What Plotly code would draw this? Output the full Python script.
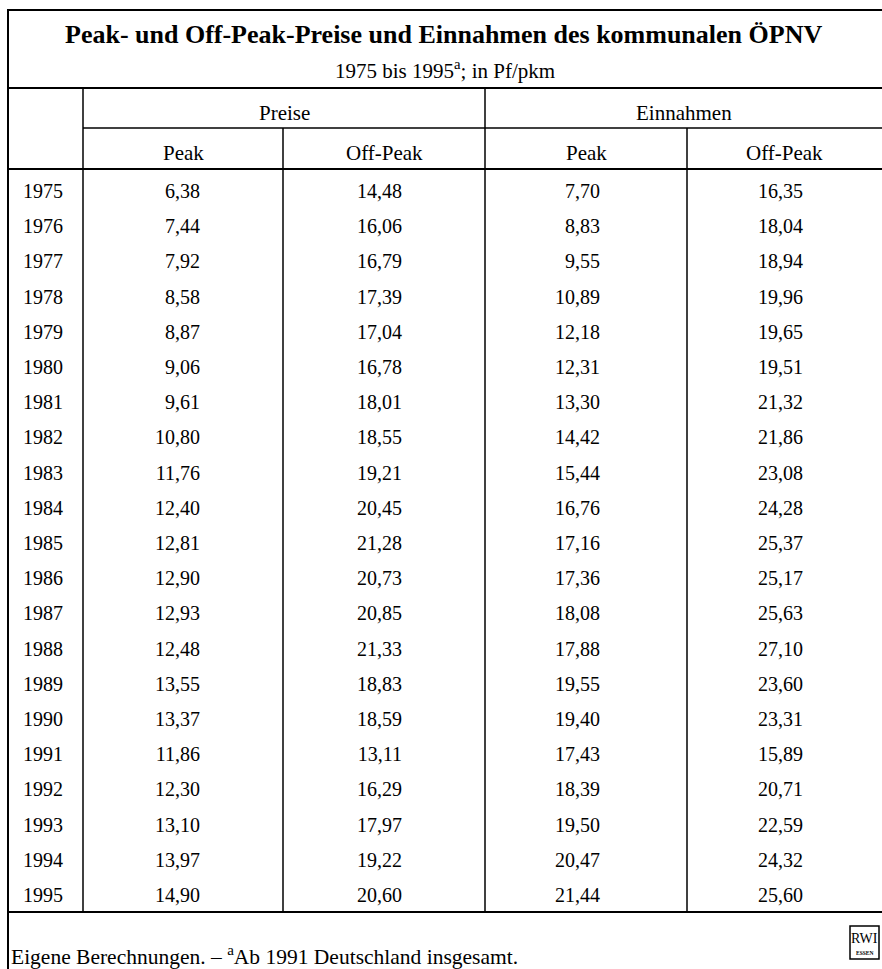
import plotly.graph_objects as go

years = ["1975", "1976", "1977", "1978", "1979", "1980", "1981", "1982", "1983", "1984",
         "1985", "1986", "1987", "1988", "1989", "1990", "1991", "1992", "1993", "1994", "1995"]
preise_peak = ["6,38", "7,44", "7,92", "8,58", "8,87", "9,06", "9,61", "10,80", "11,76", "12,40",
               "12,81", "12,90", "12,93", "12,48", "13,55", "13,37", "11,86", "12,30", "13,10", "13,97", "14,90"]
preise_off = ["14,48", "16,06", "16,79", "17,39", "17,04", "16,78", "18,01", "18,55", "19,21", "20,45",
              "21,28", "20,73", "20,85", "21,33", "18,83", "18,59", "13,11", "16,29", "17,97", "19,22", "20,60"]
einn_peak = ["7,70", "8,83", "9,55", "10,89", "12,18", "12,31", "13,30", "14,42", "15,44", "16,76",
             "17,16", "17,36", "18,08", "17,88", "19,55", "19,40", "17,43", "18,39", "19,50", "20,47", "21,44"]
einn_off = ["16,35", "18,04", "18,94", "19,96", "19,65", "19,51", "21,32", "21,86", "23,08", "24,28",
            "25,37", "25,17", "25,63", "27,10", "23,60", "23,31", "15,89", "20,71", "22,59", "24,32", "25,60"]

title = "<b>Peak- und Off-Peak-Preise und Einnahmen des kommunalen ÖPNV</b>"
subtitle = "1975 bis 1995<sup>a</sup>; in Pf/pkm"
group_labels = ["Preise", "Einnahmen"]
sub_labels = ["Peak", "Off-Peak", "Peak", "Off-Peak"]
footer = "Eigene Berechnungen. – <sup>a</sup>Ab 1991 Deutschland insgesamt."

W, H = 882, 969
ROW0, ROWH = 193.0, 35.2
FONT = "Liberation Serif"

# y axis in row units (row i centred at ROW0 + i*ROWH pixels)
y_top = (0 - ROW0) / ROWH
y_bot = (H - ROW0) / ROWH

def py(p):
    return 1 - p / H

fig = go.Figure()
rows = list(range(len(years)))

fig.add_trace(go.Scatter(x=[43] * len(years), y=rows, text=years, mode="text",
                         textposition="middle center",
                         textfont=dict(family=FONT, size=20, color="black"),
                         hoverinfo="skip", showlegend=False))
cols = [(preise_peak, 200), (preise_off, 402), (einn_peak, 600), (einn_off, 803)]
for vals, xr in cols:
    fig.add_trace(go.Scatter(x=[xr] * len(vals), y=rows, text=vals, mode="text",
                             textposition="middle left",
                             textfont=dict(family=FONT, size=20, color="black"),
                             hoverinfo="skip", showlegend=False))

shapes = []
def hline(x0, x1, y, w=1.5):
    shapes.append(dict(type="line", xref="x", yref="paper", x0=x0, x1=x1, y0=py(y), y1=py(y),
                       line=dict(color="black", width=w)))
def vline(x, y0, y1, w=1.5):
    shapes.append(dict(type="line", xref="x", yref="paper", x0=x, x1=x, y0=py(y0), y1=py(y1),
                       line=dict(color="black", width=w)))

hline(8, 882, 10, 2)
hline(8, 882, 88, 2)
hline(83, 882, 128)
hline(8, 882, 169, 2)
hline(8, 882, 912, 2)
vline(8, 9, 969, 2)
vline(83, 88, 912)
vline(283, 128, 912)
vline(485, 88, 912)
vline(687, 128, 912)
# logo box
shapes.append(dict(type="rect", xref="x", yref="paper", x0=850, x1=879, y0=py(959), y1=py(926),
                   line=dict(color="black", width=1.5)))

annotations = []
def ann(text, x, y, size, xanchor="center"):
    annotations.append(dict(text=text, x=x, y=py(y), xref="x", yref="paper", showarrow=False,
                            xanchor=xanchor, yanchor="middle",
                            font=dict(family=FONT, size=size, color="black")))

ann(title, 443, 34, 26)
ann(subtitle, 445, 69, 21)
ann(group_labels[0], 284, 113, 21)
ann(group_labels[1], 684, 113, 21)
for lbl, xc in zip(sub_labels, [183, 384, 586, 784]):
    ann(lbl, xc, 153, 21)
ann(footer, 9, 955, 21.5, xanchor="left")
ann("RWI", 864.5, 938, 14)
ann("<b>ESSEN</b>", 864.5, 953, 5.5)

fig.update_layout(
    width=W, height=H, margin=dict(l=0, r=0, t=0, b=0),
    paper_bgcolor="white", plot_bgcolor="white",
    xaxis=dict(range=[0, W], visible=False, fixedrange=True),
    yaxis=dict(range=[y_bot, y_top], visible=False, fixedrange=True),
    shapes=shapes, annotations=annotations,
)
fig.write_html("out.html", config={"displayModeBar": False},
               post_script="document.body.style.margin='0';document.body.style.overflow='hidden';")
